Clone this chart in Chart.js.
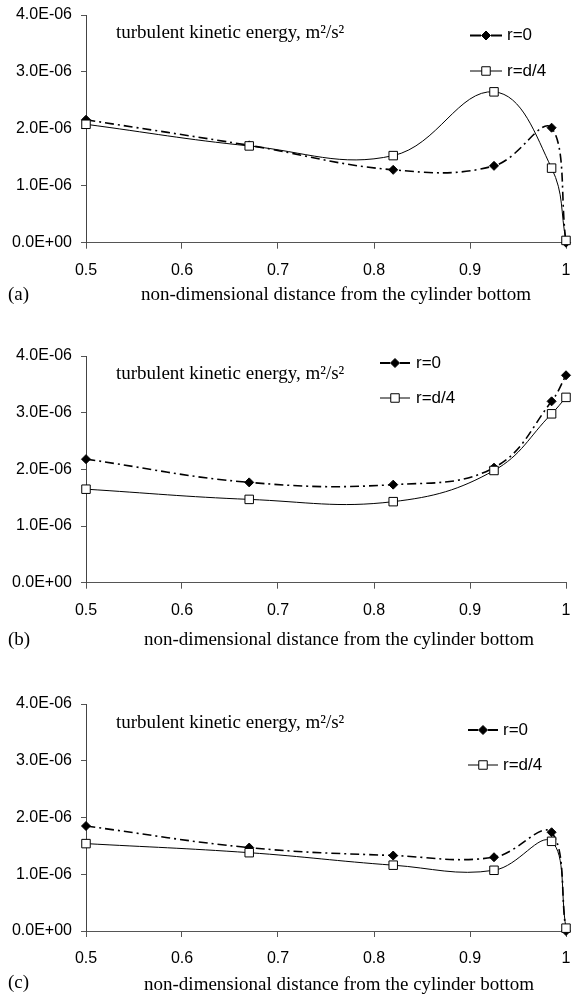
<!DOCTYPE html>
<html><head><meta charset="utf-8">
<script src="https://cdn.jsdelivr.net/npm/chart.js@4.4.1/dist/chart.umd.min.js"></script>
<style>
html,body{margin:0;padding:0;background:#fff;width:577px;height:998px;overflow:hidden}
.p{position:absolute;left:0;width:577px}
canvas{display:block}
</style></head><body>
<div class="p" style="top:0;height:330px"><canvas id="ca" width="577" height="330"></canvas></div>
<div class="p" style="top:330px;height:330px"><canvas id="cb" width="577" height="330"></canvas></div>
<div class="p" style="top:660px;height:338px"><canvas id="cc" width="577" height="338"></canvas></div>
<script>
// ---- data ----
const xValues = [0.5, 0.67, 0.82, 0.925, 0.985, 1.0];
const seriesNames = ['r=0', 'r=d/4'];
const panelLabels = ['(a)', '(b)', '(c)'];

const a_r0  = [2.16e-6, 1.71e-6, 1.28e-6, 1.35e-6, 2.02e-6, 0.0];
const a_rd4 = [2.08e-6, 1.70e-6, 1.53e-6, 2.65e-6, 1.31e-6, 0.04e-6];

const b_r0  = [2.18e-6, 1.77e-6, 1.73e-6, 2.03e-6, 3.20e-6, 3.66e-6];
const b_rd4 = [1.65e-6, 1.47e-6, 1.43e-6, 1.98e-6, 2.98e-6, 3.27e-6];

const c_r0  = [1.85e-6, 1.47e-6, 1.33e-6, 1.30e-6, 1.74e-6, 0.0];
const c_rd4 = [1.54e-6, 1.38e-6, 1.16e-6, 1.07e-6, 1.58e-6, 0.05e-6];

const yTicks = [0, 1e-6, 2e-6, 3e-6, 4e-6];
const xTicks = [0.5, 0.6, 0.7, 0.8, 0.9, 1.0];
const xTickLabels = ['0.5', '0.6', '0.7', '0.8', '0.9', '1'];
const annotationText = 'turbulent kinetic energy, m\u00B2/s\u00B2';
const xAxisTitle = 'non-dimensional distance from the cylinder bottom';

// ---- helpers ----
function sci(v) {
  if (v === 0) return '0.0E+00';
  const e = Math.floor(Math.log10(Math.abs(v)) + 1e-9);
  const m = v / Math.pow(10, e);
  return m.toFixed(1) + 'E' + (e < 0 ? '-' : '+') + String(Math.abs(e)).padStart(2, '0');
}
const SANS = '"Liberation Sans", Arial, sans-serif';
const SERIF = '"Liberation Serif", "Times New Roman", serif';

const overlay = {
  id: 'overlay',
  afterDraw(chart, args, o) {
    const ctx = chart.ctx;
    ctx.save();
    ctx.fillStyle = '#000';
    ctx.textBaseline = 'middle';
    ctx.font = '19px ' + SERIF;
    ctx.textAlign = 'left';
    ctx.fillText(annotationText, o.title[0], o.title[1]);
    ctx.fillText(o.label, o.lab[0], o.lab[1]);
    ctx.textAlign = 'center';
    ctx.fillText(xAxisTitle, o.xlab[0], o.xlab[1]);
    // legend
    const L = o.legend;
    const mid = (L.x0 + L.x1) / 2;
    chart.data.datasets.forEach((ds, i) => {
      const y = L.y[i];
      ctx.strokeStyle = '#000';
      ctx.setLineDash([]);
      if (i === 0) {
        ctx.lineWidth = 2;
        ctx.beginPath();
        ctx.moveTo(L.x0, y); ctx.lineTo(mid - 5, y);
        ctx.moveTo(mid + 5, y); ctx.lineTo(L.x1, y);
        ctx.stroke();
      } else {
        ctx.lineWidth = 1;
        ctx.beginPath();
        ctx.moveTo(L.x0, y); ctx.lineTo(L.x1, y);
        ctx.stroke();
      }
      ctx.fillStyle = ds.pointBackgroundColor;
      ctx.strokeStyle = ds.pointBorderColor;
      ctx.lineWidth = ds.pointBorderWidth;
      Chart.helpers.drawPoint(ctx, {pointStyle: ds.pointStyle, radius: ds.pointRadius, rotation: 0, borderWidth: ds.pointBorderWidth}, mid, y);
      ctx.fillStyle = '#000';
      ctx.font = '17px ' + SANS;
      ctx.textAlign = 'left';
      ctx.textBaseline = 'middle';
      ctx.fillText(seriesNames[i], L.tx, y);
    });
    ctx.restore();
  }
};

function makePanel(id, r0, rd4, lay, label) {
  const H = lay.h;
  new Chart(document.getElementById(id), {
    type: 'line',
    data: {
      datasets: [
        {
          label: seriesNames[0],
          data: xValues.map((x, i) => ({x: x, y: r0[i]})),
          borderColor: '#000', borderWidth: 1.6, borderDash: [9, 4, 2, 4],
          pointStyle: 'rectRot', pointRadius: 4.5,
          pointBackgroundColor: '#000', pointBorderColor: '#000', pointBorderWidth: 1,
          tension: 0.4, fill: false, order: 1, clip: 8
        },
        {
          label: seriesNames[1],
          data: xValues.map((x, i) => ({x: x, y: rd4[i]})),
          borderColor: '#000', borderWidth: 1,
          pointStyle: 'rect', pointRadius: 6,
          pointBackgroundColor: '#fff', pointBorderColor: '#000', pointBorderWidth: 1,
          tension: 0.4, fill: false, order: 0, clip: 8
        }
      ]
    },
    options: {
      responsive: false,
      animation: false,
      devicePixelRatio: 1,
      layout: {padding: {left: 0, right: 577 - 566, top: lay.top, bottom: 0}},
      plugins: {legend: {display: false}, tooltip: {enabled: false}, overlay: {
        title: lay.title, lab: lay.lab, xlab: lay.xlab, legend: lay.legend, label: label
      }},
      scales: {
        x: {
          type: 'linear', min: 0.5, max: 1.0,
          afterBuildTicks: s => { s.ticks = xTicks.map(v => ({value: v})); },
          afterFit: s => { s.height = H - lay.bottom; s.paddingLeft = 0; s.paddingRight = 0; },
          ticks: {
            callback: (v, i) => xTickLabels[xTicks.findIndex(t => Math.abs(t - v) < 1e-9)],
            font: {family: SANS, size: 16}, color: '#000', padding: 12, maxRotation: 0, autoSkip: false
          },
          grid: {display: true, drawOnChartArea: false, drawTicks: true, tickLength: 6, color: '#555', lineWidth: 1},
          border: {display: true, color: '#555', width: 1}
        },
        y: {
          type: 'linear', min: 0, max: 4e-6,
          afterBuildTicks: s => { s.ticks = yTicks.map(v => ({value: v})); },
          afterFit: s => { s.width = 86; s.paddingTop = 0; s.paddingBottom = 0; },
          ticks: {
            callback: v => sci(v),
            font: {family: SANS, size: 16}, color: '#000', padding: 9, autoSkip: false
          },
          grid: {display: true, drawOnChartArea: false, drawTicks: true, tickLength: 5, color: '#555', lineWidth: 1},
          border: {display: true, color: '#444', width: 1}
        }
      }
    },
    plugins: [overlay]
  });
}

makePanel('ca', a_r0, a_rd4, {
  h: 330, top: 15, bottom: 242.7,
  title: [116, 33], lab: [8, 295], xlab: [336, 295],
  legend: {x0: 470, x1: 502, tx: 507, y: [35.5, 71]}
}, panelLabels[0]);

makePanel('cb', b_r0, b_rd4, {
  h: 330, top: 26, bottom: 252.7,
  title: [116, 44], lab: [8, 310], xlab: [339, 310],
  legend: {x0: 380, x1: 410, tx: 416, y: [33, 68]}
}, panelLabels[1]);

makePanel('cc', c_r0, c_rd4, {
  h: 338, top: 44, bottom: 271,
  title: [116, 63], lab: [8, 323], xlab: [339, 325],
  legend: {x0: 468, x1: 498, tx: 503, y: [70, 105]}
}, panelLabels[2]);
</script>
</body></html>
